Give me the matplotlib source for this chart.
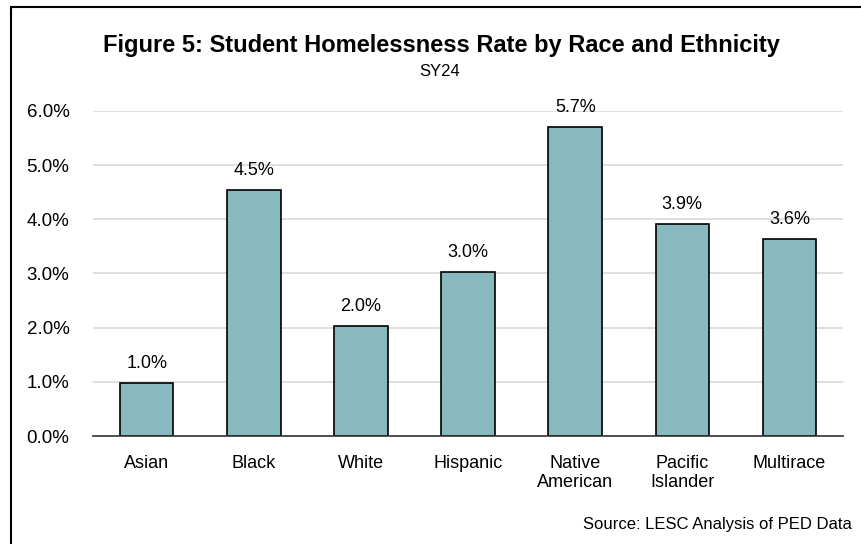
# Student homelessness rate by race and ethnicity, SY24

import matplotlib.pyplot as plt
import matplotlib.patches as patches
import numpy as np

plt.rcParams['font.family'] = ['Liberation Sans', 'DejaVu Sans']

# Data:
groups = ["Asian", "Black", "White", "Hispanic", "Native\nAmerican", "Pacific\nIslander", "Multirace"]
rates = [0.98, 4.54, 2.03, 3.03, 5.71, 3.92, 3.64]   # percent
yticks = [0, 1, 2, 3, 4, 5, 6]

fig = plt.figure(figsize=(8.62, 5.44), dpi=100)
ax = fig.add_axes([0.108, 0.1985, 0.87, 0.5975])

x = np.arange(len(groups))
ax.bar(x, rates, width=0.5, color="#88B9BF", edgecolor="black", linewidth=1.2, zorder=3)

for xi, r in zip(x, rates):
    ax.text(xi, r + 0.2, f"{r:.1f}%", ha="center", va="bottom", fontsize=13)

ax.set_xlim(-0.5, len(groups) - 0.5)
ax.set_ylim(0, 6)
ax.set_yticks(yticks)
ax.set_yticklabels([f"{t:.1f}%" for t in yticks], fontsize=13.5)
ax.set_xticks(x)
ax.set_xticklabels(groups, fontsize=13, linespacing=1.15)
ax.tick_params(length=0)
ax.tick_params(axis="x", pad=14)
ax.tick_params(axis="y", pad=17)
ax.grid(axis="y", color="#D9D9D9", linewidth=1.2, zorder=0)
for s in ["top", "right", "left"]:
    ax.spines[s].set_visible(False)
ax.spines["bottom"].set_color("#333333")
ax.spines["bottom"].set_linewidth(1.2)
ax.spines["bottom"].set_zorder(4)

fig.text(0.512, 0.917, "Figure 5: Student Homelessness Rate by Race and Ethnicity",
         ha="center", va="center", fontsize=17, fontweight="bold")
fig.text(0.51, 0.868, "SY24", ha="center", va="center", fontsize=12)
fig.text(0.988, 0.035, "Source: LESC Analysis of PED Data", ha="right", va="center", fontsize=12)

# frame around the figure (right and bottom edges cut off in the original)
fig.patches.append(patches.Rectangle((11 / 862, -0.05), 1.1, 1 - 7 / 544 + 0.05,
                                     transform=fig.transFigure, fill=False,
                                     edgecolor="black", linewidth=1.5))

fig.savefig("out.png", dpi=100)
